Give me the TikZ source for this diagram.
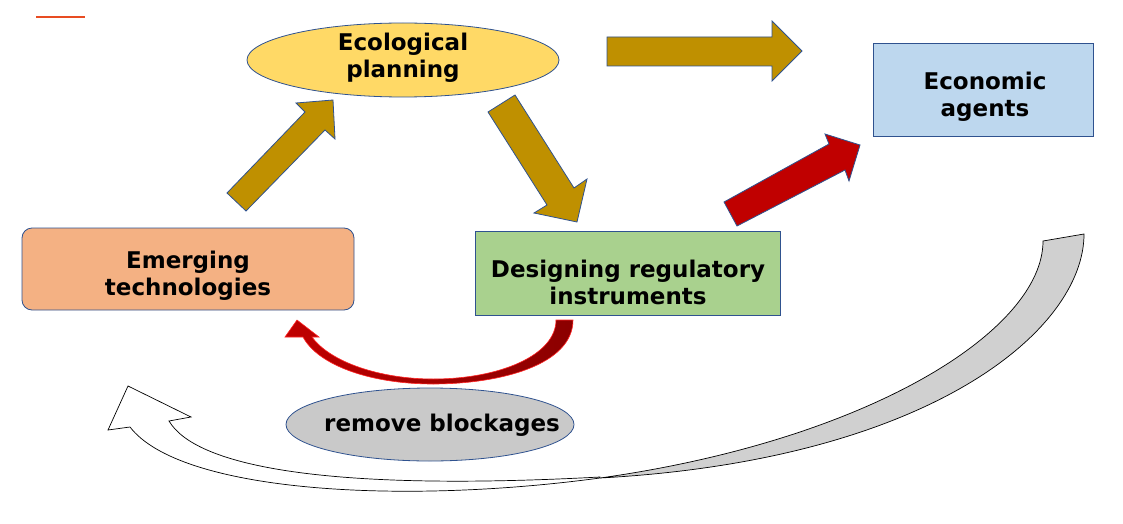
\documentclass[tikz,border=0pt]{standalone}
\usepackage{fontspec}
\setmainfont{DejaVu Sans}
\usetikzlibrary{shapes.geometric}
\definecolor{edgeblue}{HTML}{2F528F}
\definecolor{ecofill}{HTML}{FFD966}
\definecolor{agentfill}{HTML}{BDD7EE}
\definecolor{techfill}{HTML}{F4B183}
\definecolor{regfill}{HTML}{A9D18E}
\definecolor{blockfill}{HTML}{C9C9C9}
\definecolor{gold}{HTML}{BF9000}
\definecolor{darkred}{HTML}{C00000}
\definecolor{deepred}{HTML}{8B0000}
\definecolor{ribbon}{HTML}{D0D0D0}
\definecolor{accent}{HTML}{E84C22}
\tikzset{
  lbl/.style={font=\fontsize{23pt}{27pt}\selectfont\bfseries, align=center, text=black},
  box/.style={draw=edgeblue, line width=0.8pt, inner sep=0pt},
  blockarrow/.style={draw=edgeblue, line width=0.8pt, line join=miter},
}
\begin{document}
\begin{tikzpicture}[x=1pt,y=-1pt]
\useasboundingbox (0,0) rectangle (1123,524);
% accent line
\draw[accent, line width=2.5pt] (36,17) -- (85,17);

% nodes
\node[box, ellipse, fill=ecofill, minimum width=312pt, minimum height=74pt] (eco) at (403,60) {};
\node[lbl] (ecot) at (403,58) {Ecological\\planning};
\node[box, fill=agentfill, minimum width=220pt, minimum height=93pt] (agents) at (983,89.5) {};
\node[lbl] (agentst) at (985,97) {Economic\\agents};
\node[box, rounded corners=10pt, fill=techfill, minimum width=332pt, minimum height=82pt] (tech) at (188,269) {};
\node[lbl] (techt) at (188,276) {Emerging\\technologies};
\node[box, fill=regfill, minimum width=305pt, minimum height=84pt] (reg) at (627.5,273) {};
\node[lbl] (regt) at (628,282) {Designing regulatory\\instruments};
\node[box, ellipse, fill=blockfill, minimum width=288pt, minimum height=73pt] (block) at (430,424.5) {};
\node[lbl] (blockt) at (442,425) {remove blockages};

% gold block arrows
\fill[gold, blockarrow] (607,37) -- (772,37) -- (772,21) -- (802,51) -- (772,81) -- (772,66) -- (607,66) -- cycle;
\fill[gold, blockarrow] (227,193) -- (305,112) -- (296,103) -- (333,100) -- (335,139) -- (325,130) -- (246,211) -- cycle;
\fill[gold, blockarrow] (488,112) -- (515,95) -- (574,188) -- (587,179) -- (577,222) -- (534,213) -- (547,205) -- cycle;
% red block arrow
\fill[darkred, blockarrow] (724,202) -- (829,144) -- (825,134) -- (860,145) -- (849,181) -- (845,170) -- (737,226) -- cycle;

% red curved arrow
\shade[left color=darkred, middle color=red!90!black, right color=deepred, draw=red!85, line width=0.6pt]
  (556,320) -- (573,320) .. controls (573,365) and (500,384) .. (433,384)
  .. controls (370,384) and (318,365) .. (303,337) -- (285,337) -- (297,320) -- (319,337) -- (312,337)
  .. controls (330,362) and (380,379) .. (433,379)
  .. controls (500,379) and (556,355) .. (556,320) -- cycle;

% grey return ribbon
\fill[ribbon, draw=black, line width=0.7pt]
  (1043,241) -- (1084,234) .. controls (1084,330) and (930,460) .. (600,478)
  .. controls (870,440) and (1043,330) .. (1043,241) -- cycle;
\filldraw[fill=white, draw=black, line width=0.7pt]
  (600,478) .. controls (400,505) and (180,492) .. (130,427)
  -- (108,430) -- (128,386) -- (191,417) -- (169,421)
  .. controls (195,465) and (320,492) .. (600,477) -- cycle;
\end{tikzpicture}
\end{document}
